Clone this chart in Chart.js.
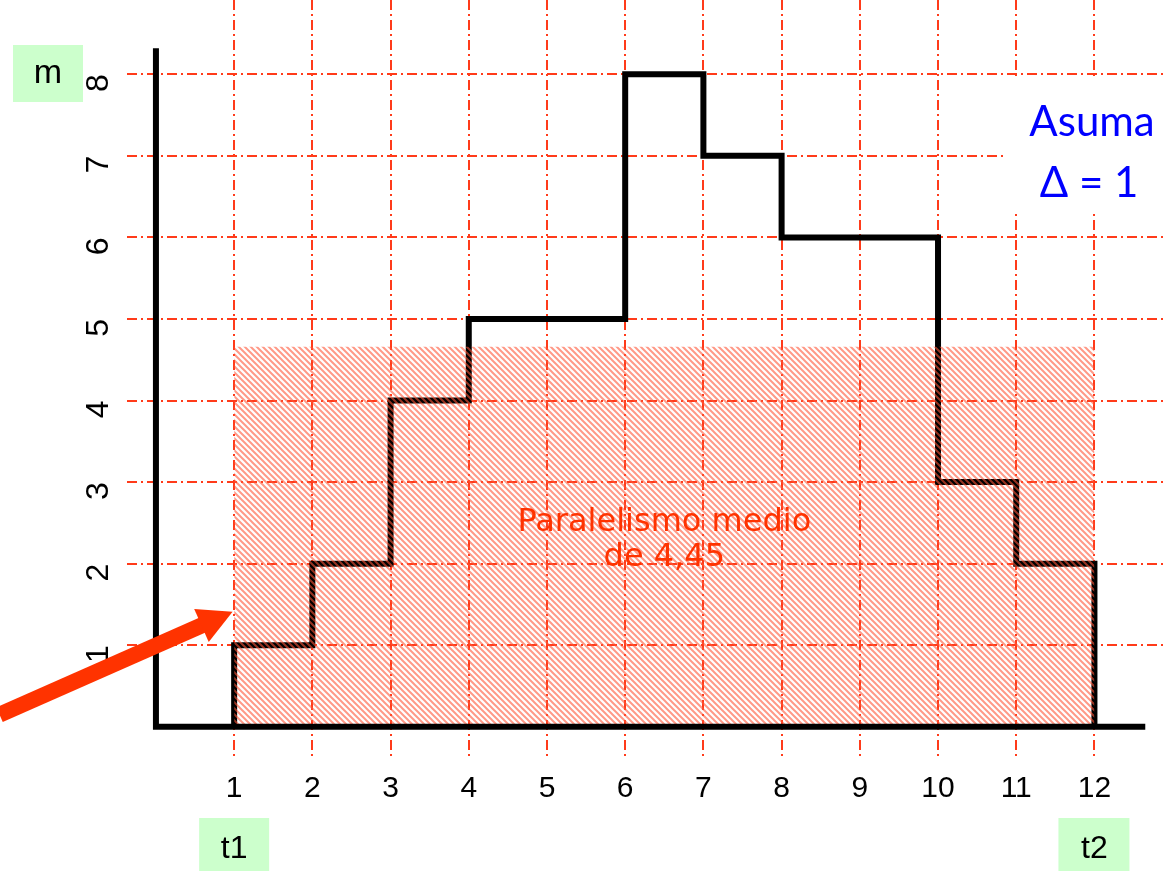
<!DOCTYPE html>
<html>
<head>
<meta charset="utf-8">
<script src="https://cdn.jsdelivr.net/npm/chart.js@4.4.0/dist/chart.umd.min.js"></script>
<style>
body { margin: 0; background: #fff; }
#wrap { width: 1166px; height: 871px; position: relative; }
</style>
</head>
<body>
<div id="wrap"><canvas id="chart"></canvas></div>
<script>
// Step profile: level m reached at each instant (first point is the start at 0)
const stepX = [1, 1, 2, 3, 4, 5, 6, 7, 8, 9, 10, 11, 12];
const stepY = [0, 1, 2, 4, 5, 5, 8, 7, 6, 6, 3, 2, 0];
const xTicks = [1, 2, 3, 4, 5, 6, 7, 8, 9, 10, 11, 12];
const yTicks = [1, 2, 3, 4, 5, 6, 7, 8];
// shaded mean level, as drawn in the picture
const meanLevel = 4.66;
const meanSpan = [1, 12];
const meanText = ["Paralelismo medio", "de 4,45"];

const gridColor = "#ff3b1a";

// diagonal hatch for the mean area
function makeHatch() {
    const c = document.createElement("canvas");
    c.width = 6; c.height = 6;
    const g = c.getContext("2d");
    g.strokeStyle = "rgba(255,85,55,0.6)";
    g.lineWidth = 2;
    g.beginPath();
    [-6, 0, 6].forEach(k => { g.moveTo(k - 1, -1); g.lineTo(k + 7, 7); });
    g.stroke();
    return g.createPattern(c, "repeat");
}

// black axes, drawn under the grid
const axesPlugin = {
    id: "axes",
    afterDatasetsDraw(chart) {
        const { ctx, scales: { x, y } } = chart;
        ctx.save();
        ctx.strokeStyle = "#000";
        ctx.lineWidth = 6;
        ctx.lineJoin = "miter";
        ctx.beginPath();
        ctx.moveTo(x.getPixelForValue(0), y.getPixelForValue(8.32));
        ctx.lineTo(x.getPixelForValue(0), y.getPixelForValue(0));
        ctx.lineTo(x.getPixelForValue(12.65), y.getPixelForValue(0));
        ctx.stroke();
        // mean label (sits under the grid too)
        ctx.fillStyle = "#ff3300";
        ctx.font = "32px 'DejaVu Sans'";
        ctx.textAlign = "center";
        ctx.textBaseline = "middle";
        ctx.fillText(meanText[0], x.getPixelForValue(6.5), y.getPixelForValue(2.50));
        ctx.fillText(meanText[1], x.getPixelForValue(6.5), y.getPixelForValue(2.07));
        ctx.restore();
    }
};

// notes on top: boxes, Asuma note, arrow
const notesPlugin = {
    id: "notes",
    afterDraw(chart) {
        const { ctx, scales: { x, y } } = chart;
        ctx.save();
        // green boxes
        ctx.fillStyle = "#ccffcc";
        ctx.fillRect(13, 45, 70, 57);
        ctx.fillRect(x.getPixelForValue(1) - 35, 818, 70, 53);
        ctx.fillRect(x.getPixelForValue(12) - 36, 818, 71, 53);
        ctx.fillStyle = "#000";
        ctx.textAlign = "center";
        ctx.textBaseline = "middle";
        ctx.font = "34px 'Liberation Sans'";
        ctx.fillText("m", 48, 74);
        ctx.font = "32px 'Liberation Sans'";
        ctx.fillText("t1", x.getPixelForValue(1), 849);
        ctx.fillText("t2", x.getPixelForValue(12), 849);

        // Asuma note with white background
        ctx.fillStyle = "#fff";
        ctx.fillRect(1007, 78, 159, 135);
        ctx.fillStyle = "#0000ff";
        ctx.font = "42px Lato";
        ctx.fillText("Asuma", 1092, 122);
        ctx.fillText("\u0394 = 1", 1089, 183);

        // arrow pointing to t1
        const x0 = x.getPixelForValue(-2.0), y0 = y.getPixelForValue(0.15);
        const x1 = x.getPixelForValue(0.98), y1 = y.getPixelForValue(1.41);
        const ang = Math.atan2(y1 - y0, x1 - x0);
        const headLen = 34, headHalf = 18;
        const bx = x1 - headLen * Math.cos(ang), by = y1 - headLen * Math.sin(ang);
        ctx.strokeStyle = "#ff3300";
        ctx.fillStyle = "#ff3300";
        ctx.lineWidth = 16;
        ctx.beginPath();
        ctx.moveTo(x0, y0);
        ctx.lineTo(bx + 4 * Math.cos(ang), by + 4 * Math.sin(ang));
        ctx.stroke();
        ctx.beginPath();
        ctx.moveTo(x1, y1);
        ctx.lineTo(bx + headHalf * Math.sin(ang), by - headHalf * Math.cos(ang));
        ctx.lineTo(bx - headHalf * Math.sin(ang), by + headHalf * Math.cos(ang));
        ctx.closePath();
        ctx.fill();
        ctx.restore();
    }
};

new Chart(document.getElementById("chart"), {
    type: "line",
    data: {
        datasets: [
            {
                label: "medio",
                data: meanSpan.map(v => ({ x: v, y: meanLevel })),
                borderWidth: 0,
                pointRadius: 0,
                backgroundColor: makeHatch(),
                fill: "origin"
            },
            {
                label: "m",
                data: stepX.map((v, i) => ({ x: v, y: stepY[i] })),
                stepped: "before",
                borderColor: "#000",
                borderWidth: 6,
                borderJoinStyle: "miter",
                pointRadius: 0,
                fill: false
            }
        ]
    },
    options: {
        responsive: true,
        maintainAspectRatio: false,
        animation: false,
        layout: { padding: 0 },
        plugins: { legend: { display: false }, tooltip: { enabled: false } },
        scales: {
            x: {
                type: "linear",
                min: -0.37,
                max: 12.915,
                z: 1,
                afterBuildTicks: s => { s.ticks = xTicks.map(v => ({ value: v })); },
                afterFit: s => { s.height = 114; s.paddingLeft = 0; s.paddingRight = 0; },
                grid: { color: gridColor, lineWidth: 2, drawTicks: false },
                border: { display: false, dash: [10, 4, 2, 4] },
                ticks: {
                    color: "#000",
                    font: { family: "Liberation Sans", size: 30 },
                    padding: 14,
                    maxRotation: 0,
                    autoSkip: false
                }
            },
            y: {
                type: "linear",
                min: -0.37,
                max: 8.91,
                z: 1,
                afterBuildTicks: s => { s.ticks = yTicks.map(v => ({ value: v })); },
                afterFit: s => { s.width = 127; s.paddingTop = 0; s.paddingBottom = 0; },
                grid: { color: gridColor, lineWidth: 2, drawTicks: false },
                border: { display: false, dash: [10, 4, 2, 4] },
                ticks: {
                    color: "#000",
                    font: { family: "Liberation Sans", size: 32 },
                    padding: 28,
                    minRotation: 90,
                    maxRotation: 90,
                    autoSkip: false
                }
            }
        }
    },
    plugins: [axesPlugin, notesPlugin]
});
</script>
</body>
</html>
